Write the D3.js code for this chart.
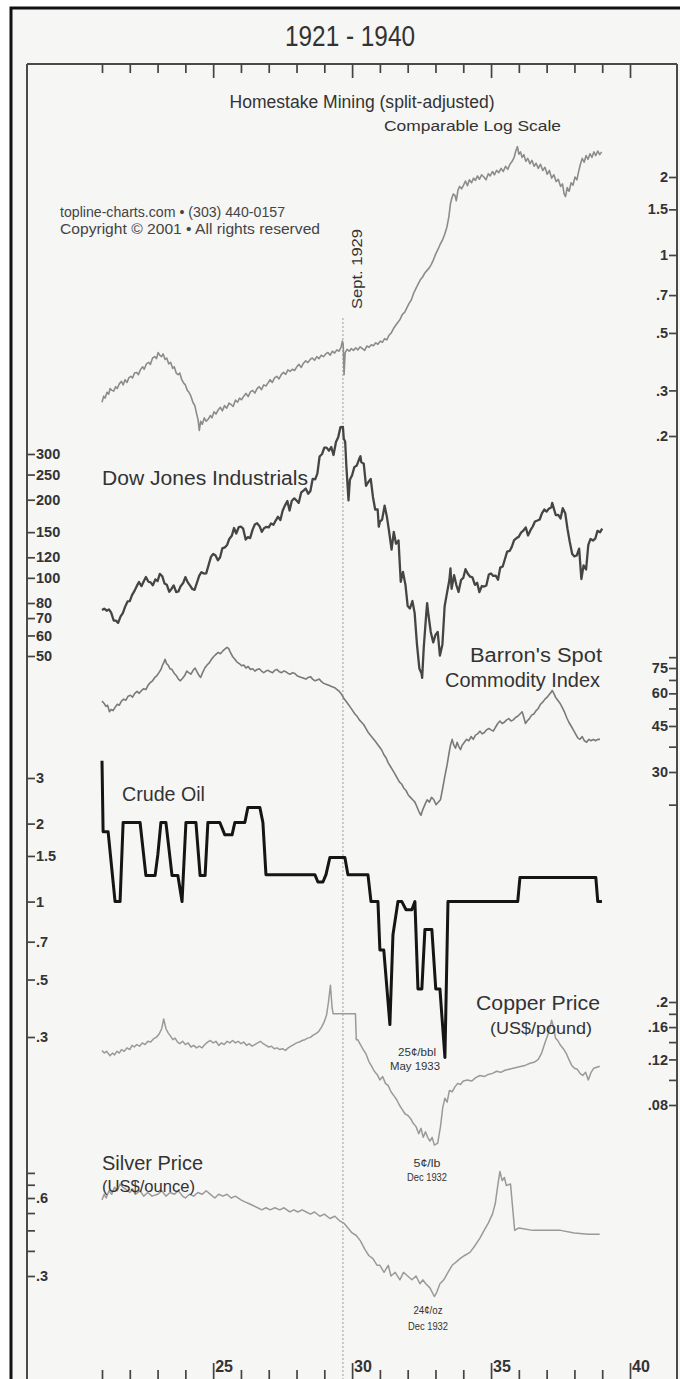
<!DOCTYPE html>
<html><head><meta charset="utf-8">
<script src="https://cdn.jsdelivr.net/npm/d3@7/dist/d3.min.js"></script>
<style>
html,body{margin:0;padding:0;background:#fff;}
svg{display:block;font-family:"Liberation Sans",Arial,sans-serif;}
</style></head><body>
<svg id="chart" width="680" height="1379"></svg>
<script>
// ---------------- DATA ----------------
const yearTicks = d3.range(1921, 1941);
const majorYears = [1925, 1930, 1935, 1940];
const majorYearLabels = ["25", "30", "35", "40"];

const homestakeTicks = [2, 1.5, 1, 0.7, 0.5, 0.3, 0.2];
const homestakeTickLabels = ["2", "1.5", "1", ".7", ".5", ".3", ".2"];
const dowTicks = [300, 250, 200, 150, 120, 100, 80, 70, 60, 50];
const dowTickLabels = ["300", "250", "200", "150", "120", "100", "80", "70", "60", "50"];
const barronsTicks = [82.5, 75, 67.5, 60, 52.5, 45, 37.5, 30, 22.5];
const barronsTickLabels = ["", "75", "", "60", "", "45", "", "30", ""];
const crudeTicks = [3, 2, 1.5, 1, 0.7, 0.5, 0.3];
const crudeTickLabels = ["3", "2", "1.5", "1", ".7", ".5", ".3"];
const copperTicks = [0.2, 0.18, 0.16, 0.14, 0.12, 0.10, 0.08];
const copperTickLabels = [".2", "", ".16", "", ".12", "", ".08"];
const silverTicks = [0.75, 0.675, 0.6, 0.525, 0.45, 0.375, 0.3];
const silverTickLabels = ["", "", ".6", "", "", "", ".3"];

const homestake = [
[1921.00,0.27],[1921.06,0.285],[1921.11,0.28],[1921.18,0.295],[1921.24,0.29],[1921.29,0.305],[1921.36,0.30],[1921.42,0.298],
[1921.49,0.31],[1921.55,0.305],[1921.62,0.318],[1921.70,0.325],[1921.76,0.315],[1921.83,0.33],[1921.90,0.322],[1921.97,0.336],
[1922.04,0.34],[1922.10,0.335],[1922.17,0.35],[1922.25,0.352],[1922.31,0.345],[1922.38,0.36],[1922.46,0.37],[1922.52,0.362],
[1922.60,0.38],[1922.68,0.385],[1922.74,0.378],[1922.82,0.40],[1922.90,0.405],[1922.96,0.398],[1923.02,0.42],[1923.08,0.41],
[1923.14,0.405],[1923.20,0.415],[1923.27,0.395],[1923.33,0.40],[1923.40,0.38],[1923.47,0.385],[1923.54,0.365],[1923.60,0.37],
[1923.67,0.35],[1923.74,0.345],[1923.80,0.35],[1923.87,0.33],[1923.94,0.32],[1924.00,0.315],[1924.07,0.30],[1924.13,0.295],
[1924.20,0.285],[1924.27,0.27],[1924.34,0.262],[1924.40,0.245],[1924.46,0.23],[1924.50,0.21],[1924.55,0.228],[1924.61,0.222],
[1924.68,0.235],[1924.75,0.228],[1924.82,0.232],[1924.90,0.24],[1924.96,0.235],[1925.03,0.248],[1925.10,0.243],[1925.18,0.252],
[1925.26,0.258],[1925.33,0.25],[1925.41,0.262],[1925.49,0.256],[1925.57,0.268],[1925.64,0.265],[1925.72,0.26],[1925.80,0.275],
[1925.88,0.27],[1925.95,0.28],[1926.02,0.276],[1926.10,0.285],[1926.18,0.292],[1926.26,0.284],[1926.34,0.296],[1926.42,0.30],
[1926.50,0.293],[1926.58,0.305],[1926.66,0.31],[1926.74,0.302],[1926.82,0.315],[1926.90,0.312],[1926.97,0.32],[1927.05,0.33],
[1927.13,0.322],[1927.21,0.335],[1927.29,0.34],[1927.37,0.332],[1927.45,0.345],[1927.53,0.352],[1927.61,0.346],[1927.69,0.36],
[1927.77,0.355],[1927.85,0.362],[1927.93,0.358],[1928.01,0.37],[1928.09,0.378],[1928.17,0.368],[1928.25,0.382],[1928.33,0.39],
[1928.41,0.384],[1928.49,0.395],[1928.57,0.40],[1928.65,0.392],[1928.73,0.405],[1928.81,0.398],[1928.89,0.41],[1928.97,0.405],
[1929.05,0.415],[1929.13,0.42],[1929.21,0.41],[1929.29,0.425],[1929.37,0.418],[1929.45,0.43],[1929.53,0.425],[1929.60,0.44],
[1929.65,0.465],[1929.68,0.45],[1929.71,0.345],[1929.75,0.42],[1929.82,0.432],[1929.90,0.425],[1929.97,0.435],[1930.05,0.428],
[1930.13,0.438],[1930.21,0.43],[1930.29,0.442],[1930.37,0.435],[1930.45,0.428],[1930.53,0.445],[1930.61,0.44],[1930.69,0.45],
[1930.77,0.446],[1930.85,0.458],[1930.93,0.452],[1931.01,0.465],[1931.09,0.46],[1931.17,0.475],[1931.25,0.47],[1931.33,0.49],
[1931.41,0.50],[1931.49,0.52],[1931.57,0.535],[1931.65,0.55],[1931.73,0.565],[1931.81,0.59],[1931.89,0.60],[1931.97,0.625],
[1932.05,0.65],[1932.13,0.67],[1932.21,0.71],[1932.29,0.74],[1932.37,0.77],[1932.45,0.80],[1932.53,0.82],[1932.61,0.85],
[1932.69,0.87],[1932.77,0.89],[1932.85,0.92],[1932.93,0.96],[1933.01,1.01],[1933.09,1.05],[1933.17,1.10],[1933.25,1.14],
[1933.33,1.20],[1933.41,1.28],[1933.48,1.40],[1933.54,1.58],[1933.59,1.66],[1933.64,1.72],[1933.70,1.70],[1933.75,1.62],
[1933.81,1.78],[1933.87,1.84],[1933.94,1.80],[1934.01,1.86],[1934.08,1.93],[1934.15,1.85],[1934.22,1.95],[1934.30,1.90],
[1934.37,1.98],[1934.44,1.94],[1934.51,2.02],[1934.58,1.96],[1934.66,2.04],[1934.74,2.00],[1934.82,1.95],[1934.90,2.06],
[1934.97,2.02],[1935.05,2.10],[1935.12,2.04],[1935.20,2.12],[1935.28,2.08],[1935.36,2.16],[1935.44,2.10],[1935.52,2.20],
[1935.60,2.14],[1935.68,2.24],[1935.76,2.30],[1935.83,2.38],[1935.89,2.52],[1935.95,2.62],[1936.00,2.45],[1936.06,2.50],
[1936.12,2.38],[1936.18,2.44],[1936.25,2.30],[1936.32,2.36],[1936.40,2.25],[1936.47,2.32],[1936.55,2.20],[1936.62,2.26],
[1936.70,2.16],[1936.78,2.24],[1936.86,2.12],[1936.94,2.18],[1937.02,2.05],[1937.10,2.12],[1937.18,1.98],[1937.26,2.04],
[1937.34,1.92],[1937.42,1.96],[1937.50,1.84],[1937.57,1.88],[1937.63,1.72],[1937.68,1.68],[1937.74,1.82],[1937.81,1.76],
[1937.88,1.90],[1937.95,1.86],[1938.02,2.00],[1938.09,1.95],[1938.16,2.12],[1938.22,2.25],[1938.28,2.36],[1938.35,2.28],
[1938.42,2.42],[1938.49,2.34],[1938.56,2.46],[1938.63,2.38],[1938.70,2.50],[1938.77,2.42],[1938.84,2.52],[1938.91,2.44],
[1938.98,2.50]
];

const dow = [
[1921.00,75.2],[1921.08,76.1],[1921.17,74.7],[1921.25,75.6],[1921.33,73.4],[1921.42,68.5],[1921.50,68.4],[1921.58,67.1],
[1921.67,71.1],[1921.75,73.2],[1921.83,77.3],[1921.92,81.1],[1922.00,81.3],[1922.08,85.8],[1922.17,89.1],[1922.25,92.9],
[1922.33,96.4],[1922.42,92.9],[1922.50,96.9],[1922.58,100.8],[1922.67,96.6],[1922.75,96.1],[1922.83,93.7],[1922.92,98.7],
[1923.00,97.2],[1923.08,103.6],[1923.17,101.4],[1923.25,95.1],[1923.33,94.1],[1923.42,88.4],[1923.50,90.6],[1923.58,93.5],
[1923.67,88.1],[1923.75,88.6],[1923.83,92.9],[1923.92,95.5],[1924.00,100.7],[1924.08,96.3],[1924.17,93.3],[1924.25,90.6],
[1924.33,89.9],[1924.42,96.0],[1924.50,102.0],[1924.58,105.2],[1924.67,103.9],[1924.75,104.1],[1924.83,111.4],[1924.92,120.5],
[1925.00,123.6],[1925.08,122.2],[1925.17,116.8],[1925.25,120.0],[1925.33,129.9],[1925.42,131.0],[1925.50,133.8],[1925.58,141.2],
[1925.67,145.2],[1925.75,155.6],[1925.83,148.2],[1925.92,156.7],[1926.00,157.4],[1926.08,154.7],[1926.17,140.5],[1926.25,143.5],
[1926.33,142.3],[1926.42,153.4],[1926.50,160.6],[1926.58,162.5],[1926.67,158.2],[1926.75,150.4],[1926.83,155.3],[1926.92,157.2],
[1927.00,156.6],[1927.08,161.9],[1927.17,160.1],[1927.25,166.2],[1927.33,172.0],[1927.42,167.0],[1927.50,181.4],[1927.58,189.8],
[1927.67,197.6],[1927.75,181.7],[1927.83,198.2],[1927.92,202.4],[1928.00,198.6],[1928.08,194.5],[1928.17,213.5],[1928.25,216.9],
[1928.33,220.9],[1928.42,210.8],[1928.50,216.0],[1928.58,240.4],[1928.67,239.4],[1928.75,252.2],[1928.83,293.4],[1928.92,300.0],
[1929.00,317.5],[1929.08,317.4],[1929.17,308.9],[1929.25,319.3],[1929.33,297.4],[1929.42,333.8],[1929.50,347.7],[1929.58,380.3],
[1929.67,381.2],[1929.70,343.5],[1929.75,335.0],[1929.79,273.5],[1929.87,198.7],[1929.92,238.9],[1930.00,248.5],[1930.08,267.1],
[1930.17,271.1],[1930.25,286.1],[1930.30,294.0],[1930.33,279.2],[1930.42,275.1],[1930.50,226.3],[1930.58,233.5],[1930.67,240.4],
[1930.75,204.9],[1930.83,183.4],[1930.92,183.4],[1930.96,157.5],[1931.00,164.6],[1931.08,167.6],[1931.17,189.7],[1931.25,172.4],
[1931.33,151.2],[1931.42,128.5],[1931.50,150.2],[1931.58,135.4],[1931.67,139.4],[1931.75,96.6],[1931.83,105.4],[1931.92,93.9],
[1932.00,77.9],[1932.08,76.2],[1932.17,81.4],[1932.25,73.3],[1932.33,56.1],[1932.42,44.7],[1932.50,42.8],[1932.52,41.2],
[1932.58,54.3],[1932.67,73.2],[1932.70,79.9],[1932.75,71.6],[1932.83,61.9],[1932.92,56.4],[1933.00,60.3],[1933.08,61.9],
[1933.16,50.2],[1933.25,55.4],[1933.33,77.7],[1933.42,88.1],[1933.50,98.1],[1933.54,108.7],[1933.58,90.8],[1933.67,102.4],
[1933.75,94.0],[1933.83,88.2],[1933.92,98.1],[1934.00,99.9],[1934.08,108.0],[1934.17,103.5],[1934.25,101.0],[1934.33,100.5],
[1934.42,94.0],[1934.50,95.7],[1934.58,88.1],[1934.67,93.0],[1934.75,92.6],[1934.83,93.5],[1934.92,103.0],[1935.00,104.0],
[1935.08,101.7],[1935.17,101.9],[1935.25,98.3],[1935.33,109.5],[1935.42,110.6],[1935.50,118.2],[1935.58,126.2],[1935.67,127.0],
[1935.75,131.9],[1935.83,139.7],[1935.92,142.3],[1936.00,144.1],[1936.08,149.5],[1936.17,152.5],[1936.25,156.3],[1936.33,145.7],
[1936.42,152.6],[1936.50,157.7],[1936.58,164.9],[1936.67,166.3],[1936.75,167.8],[1936.83,177.2],[1936.92,183.4],[1937.00,179.9],
[1937.08,184.7],[1937.17,187.2],[1937.20,194.4],[1937.25,186.4],[1937.33,174.3],[1937.42,174.7],[1937.50,169.3],[1937.58,185.5],
[1937.67,177.4],[1937.75,154.6],[1937.83,138.0],[1937.92,123.5],[1938.00,121.0],[1938.08,121.9],[1938.17,129.6],[1938.25,99.0],
[1938.33,111.7],[1938.42,107.7],[1938.50,133.9],[1938.58,141.2],[1938.67,139.3],[1938.75,141.5],[1938.83,151.7],[1938.92,149.8],
[1939.00,154.8]
];

const barrons = [
[1921.00,56],[1921.07,55],[1921.14,53.5],[1921.20,54],[1921.27,51],[1921.33,52],[1921.40,51.5],[1921.47,53],[1921.55,54.5],
[1921.62,54],[1921.70,56],[1921.78,57],[1921.86,56.5],[1921.94,58.5],[1922.02,59],[1922.10,58],[1922.18,60],[1922.26,61],
[1922.34,60],[1922.42,61.5],[1922.50,62.5],[1922.58,62],[1922.66,64.5],[1922.74,66],[1922.82,67],[1922.90,69],[1922.97,70],
[1923.05,72],[1923.12,74],[1923.18,77],[1923.23,79],[1923.27,81],[1923.32,78],[1923.38,77],[1923.45,74.5],[1923.52,74],
[1923.60,71.5],[1923.68,70],[1923.75,68],[1923.82,67],[1923.90,68.5],[1923.97,70],[1924.05,73],[1924.12,72],[1924.20,71],
[1924.28,73.5],[1924.35,75],[1924.42,72.5],[1924.50,70],[1924.55,69],[1924.62,72],[1924.70,75],[1924.78,77],[1924.86,78.5],
[1924.94,81],[1925.02,83],[1925.10,84.5],[1925.18,86],[1925.26,85],[1925.34,87],[1925.42,88.5],[1925.50,90],[1925.56,89],
[1925.62,86],[1925.70,83],[1925.78,81],[1925.86,79],[1925.94,78],[1926.02,76.5],[1926.10,77],[1926.18,75],[1926.26,76],
[1926.34,74],[1926.42,74.5],[1926.50,73],[1926.58,74],[1926.66,74.5],[1926.74,73],[1926.82,72],[1926.90,73],[1926.98,73.5],
[1927.06,72.5],[1927.14,72],[1927.22,73.5],[1927.30,74],[1927.38,72.5],[1927.46,72],[1927.54,73],[1927.62,72.5],[1927.70,71.5],
[1927.78,71],[1927.86,72],[1927.94,71.5],[1928.02,70],[1928.10,69.5],[1928.18,69],[1928.26,68.5],[1928.34,68],[1928.42,69],
[1928.50,69.5],[1928.58,68],[1928.66,67],[1928.74,67.5],[1928.82,68],[1928.90,66.5],[1928.98,65.5],[1929.06,65],[1929.14,64.5],
[1929.22,64],[1929.30,63.5],[1929.38,63],[1929.46,62],[1929.54,61],[1929.62,59.5],[1929.70,57.5],[1929.78,56],[1929.86,54.5],
[1929.94,53],[1930.02,51.5],[1930.10,50],[1930.18,49],[1930.26,47.5],[1930.34,46.5],[1930.42,45.5],[1930.50,44],[1930.58,42.5],
[1930.66,41.5],[1930.74,40.5],[1930.82,39.5],[1930.90,38.5],[1930.98,37.5],[1931.06,36.5],[1931.14,35],[1931.22,34],[1931.30,32.5],
[1931.38,31.5],[1931.46,30.5],[1931.54,29.5],[1931.62,28.5],[1931.70,27.5],[1931.78,27],[1931.86,26],[1931.94,25.5],[1932.02,24.5],
[1932.10,24],[1932.18,23.5],[1932.26,23],[1932.34,22],[1932.42,21],[1932.48,20.5],[1932.54,21.5],[1932.62,22.5],[1932.70,23.5],
[1932.78,23],[1932.86,24],[1932.94,23.5],[1933.02,22.5],[1933.10,23],[1933.18,23.5],[1933.26,26],[1933.34,29],[1933.42,32],
[1933.48,35],[1933.54,38],[1933.60,40],[1933.66,38],[1933.72,37],[1933.78,39],[1933.84,37.5],[1933.90,36.5],[1933.96,38],
[1934.04,39],[1934.12,40],[1934.20,39.5],[1934.28,41],[1934.36,40],[1934.44,41.5],[1934.52,42],[1934.60,43],[1934.68,42],
[1934.76,42.5],[1934.84,43.5],[1934.92,44],[1935.00,43.5],[1935.08,43],[1935.16,44.5],[1935.24,46],[1935.32,47],[1935.40,46],
[1935.48,46.5],[1935.56,47.5],[1935.64,48],[1935.72,47],[1935.80,47.5],[1935.88,48.5],[1935.96,49],[1936.04,50],[1936.12,51],
[1936.18,48.5],[1936.24,46],[1936.30,47],[1936.38,48],[1936.46,49.5],[1936.54,50],[1936.62,51.5],[1936.70,52.5],[1936.78,54.5],
[1936.86,55.5],[1936.94,57],[1937.02,58],[1937.10,59.5],[1937.16,60.5],[1937.20,61.5],[1937.26,60],[1937.32,58],[1937.40,56.5],
[1937.48,55],[1937.56,53],[1937.64,51],[1937.72,48.5],[1937.80,46.5],[1937.88,45],[1937.96,43.5],[1938.04,42],[1938.12,40.5],
[1938.20,40],[1938.28,41],[1938.36,39.5],[1938.44,39],[1938.52,40],[1938.60,39.5],[1938.68,40],[1938.76,39.5],[1938.84,40],
[1938.92,40]
];

const crudeOil = [
[1921.00,3.5],[1921.04,1.86],[1921.22,1.86],[1921.47,1.0],[1921.65,1.0],[1921.76,2.02],[1922.37,2.02],[1922.58,1.26],
[1922.91,1.26],[1923.01,1.52],[1923.12,2.02],[1923.30,2.02],[1923.37,1.74],[1923.52,1.26],[1923.73,1.26],[1923.88,1.0],
[1924.02,2.02],[1924.38,2.02],[1924.53,1.26],[1924.71,1.26],[1924.81,2.02],[1925.24,2.02],[1925.42,1.81],[1925.68,1.81],
[1925.78,2.02],[1926.14,2.02],[1926.25,2.31],[1926.68,2.31],[1926.79,2.02],[1926.90,1.27],[1928.66,1.27],[1928.77,1.19],
[1928.95,1.19],[1929.06,1.27],[1929.20,1.48],[1929.74,1.48],[1929.85,1.27],[1930.57,1.27],[1930.68,1.0],[1930.93,1.0],
[1931.00,0.65],[1931.14,0.65],[1931.36,0.335],[1931.47,0.745],[1931.65,1.0],[1931.79,1.0],[1931.94,0.93],[1932.15,0.93],
[1932.26,1.0],[1932.37,0.46],[1932.51,0.46],[1932.62,0.78],[1932.87,0.78],[1933.01,0.46],[1933.16,0.46],[1933.34,0.25],
[1933.45,1.0],[1935.96,1.0],[1936.04,1.24],[1938.77,1.24],[1938.84,1.0],[1938.99,1.0]
];

const copper = [
[1921.00,0.130],[1921.08,0.127],[1921.16,0.129],[1921.29,0.124],[1921.38,0.127],[1921.45,0.125],[1921.54,0.129],[1921.62,0.127],
[1921.70,0.131],[1921.80,0.129],[1921.90,0.133],[1922.00,0.131],[1922.08,0.136],[1922.16,0.134],[1922.25,0.137],[1922.35,0.135],
[1922.45,0.139],[1922.55,0.137],[1922.65,0.141],[1922.75,0.140],[1922.85,0.144],[1922.95,0.146],[1923.05,0.150],[1923.15,0.158],
[1923.22,0.172],[1923.30,0.158],[1923.38,0.152],[1923.46,0.148],[1923.55,0.143],[1923.63,0.145],[1923.72,0.140],[1923.80,0.138],
[1923.90,0.141],[1924.00,0.137],[1924.10,0.139],[1924.20,0.134],[1924.30,0.136],[1924.40,0.133],[1924.50,0.135],[1924.60,0.133],
[1924.70,0.137],[1924.80,0.140],[1924.90,0.142],[1925.00,0.139],[1925.10,0.141],[1925.20,0.136],[1925.30,0.139],[1925.40,0.137],
[1925.50,0.141],[1925.60,0.139],[1925.70,0.142],[1925.80,0.139],[1925.90,0.141],[1926.00,0.138],[1926.10,0.140],[1926.20,0.136],
[1926.30,0.138],[1926.40,0.135],[1926.50,0.137],[1926.60,0.139],[1926.70,0.141],[1926.80,0.138],[1926.90,0.136],[1927.00,0.134],
[1927.10,0.135],[1927.20,0.132],[1927.30,0.133],[1927.40,0.131],[1927.50,0.132],[1927.60,0.130],[1927.70,0.133],[1927.80,0.135],
[1927.90,0.137],[1928.00,0.139],[1928.10,0.140],[1928.20,0.142],[1928.30,0.143],[1928.40,0.145],[1928.50,0.146],[1928.60,0.149],
[1928.70,0.151],[1928.80,0.154],[1928.90,0.160],[1929.00,0.168],[1929.08,0.178],[1929.15,0.200],[1929.22,0.232],[1929.28,0.190],
[1929.32,0.180],[1930.12,0.180],[1930.15,0.143],[1930.20,0.143],[1930.30,0.137],[1930.40,0.131],[1930.50,0.126],[1930.60,0.118],
[1930.70,0.113],[1930.80,0.108],[1930.90,0.105],[1931.00,0.100],[1931.10,0.103],[1931.20,0.097],[1931.30,0.095],[1931.40,0.090],
[1931.50,0.087],[1931.60,0.084],[1931.70,0.080],[1931.80,0.077],[1931.90,0.074],[1932.00,0.073],[1932.10,0.071],[1932.20,0.068],
[1932.30,0.066],[1932.40,0.062],[1932.48,0.065],[1932.56,0.060],[1932.64,0.063],[1932.72,0.060],[1932.80,0.058],[1932.88,0.060],
[1932.96,0.056],[1933.08,0.057],[1933.18,0.066],[1933.26,0.078],[1933.34,0.085],[1933.42,0.082],[1933.50,0.091],[1933.60,0.090],
[1933.70,0.094],[1933.80,0.097],[1933.90,0.096],[1934.00,0.099],[1934.15,0.100],[1934.30,0.099],[1934.45,0.102],[1934.60,0.104],
[1934.75,0.103],[1934.90,0.105],[1935.05,0.106],[1935.20,0.108],[1935.35,0.107],[1935.50,0.109],[1935.65,0.110],[1935.80,0.111],
[1935.95,0.112],[1936.10,0.113],[1936.25,0.114],[1936.40,0.116],[1936.55,0.117],[1936.70,0.120],[1936.82,0.127],[1936.95,0.140],
[1937.05,0.150],[1937.12,0.160],[1937.18,0.170],[1937.25,0.160],[1937.32,0.145],[1937.40,0.142],[1937.50,0.136],[1937.60,0.132],
[1937.70,0.127],[1937.80,0.120],[1937.90,0.114],[1938.00,0.111],[1938.10,0.110],[1938.20,0.106],[1938.30,0.104],[1938.40,0.107],
[1938.50,0.100],[1938.60,0.107],[1938.70,0.111],[1938.80,0.112],[1938.91,0.113]
];

const silver = [
[1921.00,0.59],[1921.08,0.62],[1921.15,0.60],[1921.25,0.64],[1921.35,0.62],[1921.45,0.66],[1921.55,0.64],[1921.65,0.68],
[1921.75,0.66],[1921.85,0.65],[1922.00,0.63],[1922.10,0.65],[1922.20,0.62],[1922.37,0.64],[1922.50,0.61],[1922.65,0.63],
[1922.80,0.61],[1923.00,0.62],[1923.15,0.64],[1923.30,0.61],[1923.45,0.63],[1923.60,0.62],[1923.75,0.64],[1923.90,0.61],
[1924.00,0.60],[1924.15,0.62],[1924.30,0.61],[1924.45,0.63],[1924.60,0.62],[1924.75,0.64],[1924.90,0.62],[1925.06,0.60],
[1925.20,0.62],[1925.35,0.61],[1925.50,0.62],[1925.65,0.60],[1925.80,0.61],[1926.00,0.59],[1926.14,0.58],[1926.30,0.57],
[1926.45,0.56],[1926.60,0.55],[1926.75,0.54],[1926.90,0.55],[1927.05,0.54],[1927.22,0.55],[1927.40,0.54],[1927.55,0.55],
[1927.76,0.53],[1927.90,0.54],[1928.05,0.53],[1928.20,0.54],[1928.35,0.53],[1928.50,0.52],[1928.65,0.53],[1928.84,0.51],
[1929.00,0.52],[1929.20,0.50],[1929.38,0.51],[1929.55,0.49],[1929.70,0.48],[1929.85,0.46],[1930.00,0.44],[1930.15,0.43],
[1930.30,0.41],[1930.46,0.38],[1930.60,0.36],[1930.75,0.35],[1930.90,0.33],[1931.00,0.33],[1931.15,0.31],[1931.30,0.33],
[1931.40,0.30],[1931.55,0.31],[1931.72,0.29],[1931.85,0.31],[1932.00,0.30],[1932.15,0.29],[1932.30,0.30],[1932.44,0.28],
[1932.55,0.29],[1932.65,0.28],[1932.80,0.27],[1932.96,0.25],[1933.05,0.26],[1933.16,0.28],[1933.30,0.29],[1933.45,0.31],
[1933.60,0.33],[1933.75,0.34],[1933.88,0.35],[1934.05,0.36],[1934.24,0.37],[1934.40,0.39],[1934.60,0.42],[1934.75,0.45],
[1934.90,0.48],[1935.05,0.52],[1935.15,0.57],[1935.25,0.68],[1935.32,0.76],[1935.40,0.70],[1935.48,0.72],[1935.55,0.67],
[1935.70,0.68],[1935.85,0.45],[1936.00,0.46],[1936.50,0.45],[1937.00,0.45],[1937.50,0.45],[1938.00,0.44],[1938.50,0.435],
[1938.91,0.435]
];

const crashDate = 1929.67;

// ---------------- LAYOUT ----------------
const svg = d3.select("#chart");
const W = 680, H = 1379;
const frameLeft = 27, frameRight = 677, frameTop = 64, frameBottom = 1379;

const x = d3.scaleLinear().domain([1921, 1940]).range([102, 630]);
// Comparable log scales: every panel uses the same pixels per log unit
const yHome = d3.scaleLog().domain([0.2, 2]).range([436, 177]);
const yDow = d3.scaleLog().domain([50, 300]).range([656, 454]);
const yBar = d3.scaleLog().domain([30, 75]).range([772, 668]);
const yCrude = d3.scaleLog().domain([0.3, 3]).range([1037, 778]);
const yCop = d3.scaleLog().domain([0.08, 0.2]).range([1105, 1002]);
const ySil = d3.scaleLog().domain([0.3, 0.6]).range([1276, 1198]);

// background
svg.append("rect").attr("x", 0).attr("y", 0).attr("width", W).attr("height", H).attr("fill", "#ffffff");
svg.append("rect").attr("x", 11).attr("y", 8).attr("width", W).attr("height", H).attr("fill", "#f6f6f5")
  .attr("stroke", "#111").attr("stroke-width", 3);

// title
svg.append("text").attr("x", 350).attr("y", 46).attr("text-anchor", "middle")
  .attr("textLength", 130).attr("lengthAdjust", "spacingAndGlyphs")
  .style("font-family", "'Liberation Sans Narrow','Liberation Sans',sans-serif")
  .style("font-size", "29px").attr("fill", "#333").text("1921 - 1940");

// frame
const fr = svg.append("g").attr("stroke", "#4a4a4a").attr("stroke-width", 2).attr("fill", "none");
fr.append("line").attr("x1", frameLeft).attr("x2", frameRight).attr("y1", frameTop).attr("y2", frameTop);
fr.append("line").attr("x1", frameLeft).attr("x2", frameLeft).attr("y1", frameTop).attr("y2", frameBottom);
fr.append("line").attr("x1", frameRight).attr("x2", frameRight).attr("y1", frameTop).attr("y2", frameBottom);

function styleAxis(g) {
  g.select(".domain").remove();
  g.selectAll(".tick line").attr("stroke", "#444").attr("stroke-width", 1.7);
  g.selectAll(".tick text").attr("fill", "#333");
}
// top year ticks
svg.append("g").attr("transform", `translate(0,${frameTop})`)
  .call(d3.axisBottom(x).tickValues(yearTicks.filter(d => !majorYears.includes(d))).tickSize(9).tickFormat(""))
  .call(styleAxis);
svg.append("g").attr("transform", `translate(0,${frameTop})`)
  .call(d3.axisBottom(x).tickValues(majorYears).tickSize(14).tickFormat(""))
  .call(styleAxis);
// bottom year ticks
svg.append("g").attr("transform", `translate(0,${frameBottom})`)
  .call(d3.axisTop(x).tickValues(yearTicks.filter(d => !majorYears.includes(d))).tickSize(9).tickFormat(""))
  .call(styleAxis);
svg.append("g").attr("transform", `translate(0,${frameBottom})`)
  .call(d3.axisTop(x).tickValues(majorYears).tickSize(16).tickFormat(""))
  .call(styleAxis);
svg.append("g").selectAll("text").data(majorYears).join("text")
  .attr("x", d => x(d) + 2).attr("y", 1372)
  .style("font-size", "16px").style("font-weight", "bold").attr("fill", "#333")
  .text((d, i) => majorYearLabels[i]);

// value axes
function valueAxis(scale, ticks, labels, side) {
  const ax = (side === "left" ? d3.axisRight(scale) : d3.axisLeft(scale))
    .tickValues(ticks).tickSize(8).tickPadding(1)
    .tickFormat((d, i) => labels[i]);
  const g = svg.append("g").attr("transform", `translate(${side === "left" ? frameLeft : frameRight},0)`)
    .call(ax).call(styleAxis);
  g.selectAll(".tick text").style("font-size", "14.5px").style("font-weight", "bold")
    .style("font-family", "'Liberation Sans',Arial,sans-serif");
}
valueAxis(yHome, homestakeTicks, homestakeTickLabels, "right");
valueAxis(yDow, dowTicks, dowTickLabels, "left");
valueAxis(yBar, barronsTicks, barronsTickLabels, "right");
valueAxis(yCrude, crudeTicks, crudeTickLabels, "left");
valueAxis(yCop, copperTicks, copperTickLabels, "right");
valueAxis(ySil, silverTicks, silverTickLabels, "left");

// Sept 1929 line
svg.append("line").attr("x1", x(crashDate)).attr("x2", x(crashDate))
  .attr("y1", 318).attr("y2", frameBottom)
  .attr("stroke", "#9a9a9a").attr("stroke-width", 1).attr("stroke-dasharray", "2,2");
svg.append("text").attr("transform", `translate(${x(crashDate) + 19},309) rotate(-90)`)
  .attr("textLength", 80).attr("lengthAdjust", "spacingAndGlyphs")
  .style("font-size", "14.5px").attr("fill", "#333").text("Sept. 1929");

// series
function series(data, yScale, color, width) {
  const line = d3.line().x(d => x(d[0])).y(d => yScale(d[1]));
  svg.append("path").datum(data).attr("d", line).attr("fill", "none")
    .attr("stroke", color).attr("stroke-width", width).attr("stroke-linejoin", "round");
}
series(homestake, yHome, "#8c8c8c", 1.6);
series(dow, yDow, "#454545", 2.3);
series(barrons, yBar, "#7a7a7a", 1.6);
series(crudeOil, yCrude, "#151515", 3);
series(copper, yCop, "#9a9a9a", 1.5);
series(silver, ySil, "#9a9a9a", 1.5);

// labels
function label(txt, xp, yp, size, anchor, len, color) {
  const t = svg.append("text").attr("x", xp).attr("y", yp).attr("text-anchor", anchor || "start")
    .style("font-size", size + "px").attr("fill", color || "#333").text(txt);
  if (len) t.attr("textLength", len).attr("lengthAdjust", "spacingAndGlyphs");
}
label("Homestake Mining (split-adjusted)", 362, 108, 17.5, "middle", 265);
label("Comparable Log Scale", 561, 131, 15.5, "end", 177);
label("topline-charts.com \u2022 (303) 440-0157", 60, 217, 14, "start", 225, "#444");
label("Copyright \u00a9 2001 \u2022 All rights reserved", 60, 234, 14, "start", 260, "#444");
label("Dow Jones Industrials", 102, 485, 20, "start", 206);
label("Barron's Spot", 602, 662, 20, "end", 132);
label("Commodity Index", 600, 687, 20, "end", 155);
label("Crude Oil", 122, 801, 20, "start", 83);
label("Copper Price", 600, 1010, 20, "end", 124);
label("(US$/pound)", 592, 1034, 16, "end", 102);
label("25\u00a2/bbl", 417, 1056, 11.5, "middle", 38);
label("May 1933", 415, 1070, 11.5, "middle", 50);
label("5\u00a2/lb", 427, 1167, 11.5, "middle", 27);
label("Dec 1932", 427, 1181, 11.5, "middle", 40);
label("Silver Price", 102, 1170, 20, "start", 101);
label("(US$/ounce)", 102, 1192, 16, "start", 93);
label("24\u00a2/oz", 428, 1314, 11.5, "middle", 29);
label("Dec 1932", 428, 1330, 11.5, "middle", 40);
</script>
</body></html>
